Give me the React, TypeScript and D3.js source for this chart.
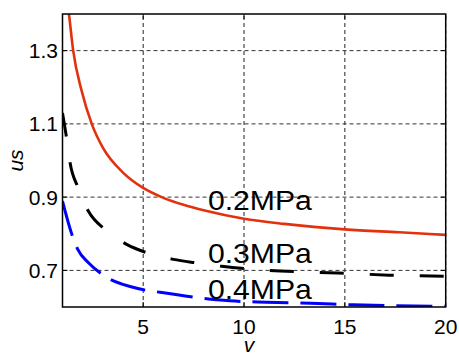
import React from "react";
import * as d3 from "d3";

const xTicks = [5, 10, 15, 20];
const yTicks = [0.7, 0.9, 1.1, 1.3];
const xDomain = [1, 20];
const yDomain = [0.6, 1.4];

const v02 = [1.25, 1.32, 1.53, 1.95, 2.45, 3, 4, 5, 6, 7, 8, 10, 12, 15, 17.7, 20];
const us02 = [1.43, 1.4, 1.3, 1.19, 1.1, 1.035, 0.967, 0.925, 0.898, 0.879, 0.864, 0.841, 0.827, 0.812, 0.804, 0.797];

const v03 = [1, 1.2, 1.37, 1.78, 2.28, 3.1, 4.18, 5.25, 6.5, 7.7, 8.9, 10.9, 13.4, 15.4, 17.2, 20];
const us03 = [1.13, 1.062, 0.995, 0.925, 0.862, 0.812, 0.771, 0.747, 0.73, 0.72, 0.711, 0.701, 0.695, 0.691, 0.687, 0.684];

const v04 = [1, 1.49, 1.75, 2.3, 2.94, 4.85, 5.84, 8.65, 9.3, 11.1, 13.3, 15.4, 20];
const us04 = [0.889, 0.794, 0.758, 0.72, 0.69, 0.649, 0.64, 0.62, 0.617, 0.613, 0.61, 0.606, 0.602];

const seriesLabels = ["0.2MPa", "0.3MPa", "0.4MPa"];
const labelV = [8.21, 8.21, 8.21];
const labelUs = [0.864, 0.72, 0.622];

const W = 459;
const H = 356;
const M = { left: 62.5, right: 459 - 445.7, top: 14, bottom: 356 - 307 };

export default function App() {
  const x = d3.scaleLinear().domain(xDomain).range([M.left, W - M.right]);
  const y = d3.scaleLinear().domain(yDomain).range([H - M.bottom, M.top]);
  const line = d3
    .line<[number, number]>()
    .x((d) => x(d[0]))
    .y((d) => y(d[1]))
    .curve(d3.curveMonotoneX);
  const zip = (a: number[], b: number[]) => a.map((v, i) => [v, b[i]] as [number, number]);
  const series = [
    { d: zip(v02, us02), color: "#e3310e", w: 2.6, dash: undefined as string | undefined },
    { d: zip(v03, us03), color: "#000000", w: 3, dash: "24,26" },
    { d: zip(v04, us04), color: "#0000ff", w: 3, dash: "36,12" },
  ];
  const x0 = x(xDomain[0]);
  const x1 = x(xDomain[1]);
  const y0 = y(yDomain[0]);
  const y1 = y(yDomain[1]);
  const font = "'Liberation Sans', Arial, sans-serif";
  return (
    <svg
      width={W}
      height={H}
      style={{ position: "absolute", left: 0, top: 0, background: "#fff" }}
      fontFamily={font}
    >
      <defs>
        <clipPath id="plot">
          <rect x={x0} y={y1} width={x1 - x0} height={y0 - y1} />
        </clipPath>
      </defs>
      <rect x={0} y={0} width={W} height={H} fill="#fff" />
      {/* grid */}
      {xTicks.map((t) => (
        <line key={"gx" + t} x1={x(t)} x2={x(t)} y1={y0} y2={y1} stroke="#222" strokeWidth={1} strokeDasharray="4,3" />
      ))}
      {yTicks.map((t) => (
        <line key={"gy" + t} x1={x0} x2={x1} y1={y(t)} y2={y(t)} stroke="#333" strokeWidth={1} strokeDasharray="4,3" />
      ))}
      {/* series */}
      <g clipPath="url(#plot)">
        {series.map((s, i) => (
          <path
            key={i}
            d={line(s.d) || ""}
            fill="none"
            stroke={s.color}
            strokeWidth={s.w}
            strokeDasharray={s.dash}
          />
        ))}
      </g>
      {/* ticks */}
      {xTicks.map((t) => (
        <g key={"tx" + t}>
          <line x1={x(t)} x2={x(t)} y1={y0} y2={y0 - 5} stroke="#000" strokeWidth={1} />
          <line x1={x(t)} x2={x(t)} y1={y1} y2={y1 + 5} stroke="#000" strokeWidth={1} />
        </g>
      ))}
      {yTicks.map((t) => (
        <g key={"ty" + t}>
          <line x1={x0} x2={x0 + 5} y1={y(t)} y2={y(t)} stroke="#000" strokeWidth={1} />
          <line x1={x1} x2={x1 - 5} y1={y(t)} y2={y(t)} stroke="#000" strokeWidth={1} />
        </g>
      ))}
      {/* frame */}
      <rect x={x0} y={y1} width={x1 - x0} height={y0 - y1} fill="none" stroke="#000" strokeWidth={1.5} />
      {/* tick labels */}
      {xTicks.map((t) => (
        <text key={"lx" + t} x={x(t)} y={y0 + 26.5} fontSize={21} textAnchor="middle" fill="#000">
          {t}
        </text>
      ))}
      {yTicks.map((t) => (
        <text key={"ly" + t} x={x0 - 4.5} y={y(t) + 7.5} fontSize={21} textAnchor="end" fill="#000">
          {t.toFixed(1)}
        </text>
      ))}
      {/* axis labels */}
      <text x={249} y={352} fontSize={21} fontStyle="italic" textAnchor="middle" fill="#000">
        v
      </text>
      <text
        transform={`translate(23,${(y0 + y1) / 2}) rotate(-90)`}
        fontSize={21}
        fontStyle="italic"
        textAnchor="middle"
        fill="#000"
      >
        us
      </text>
      {/* series labels */}
      {seriesLabels.map((l, i) => (
        <text
          key={l}
          x={x(labelV[i])}
          y={y(labelUs[i])}
          fontSize={27.5}
          textLength={104}
          lengthAdjust="spacingAndGlyphs"
          fill="#000"
        >
          {l}
        </text>
      ))}
    </svg>
  );
}
